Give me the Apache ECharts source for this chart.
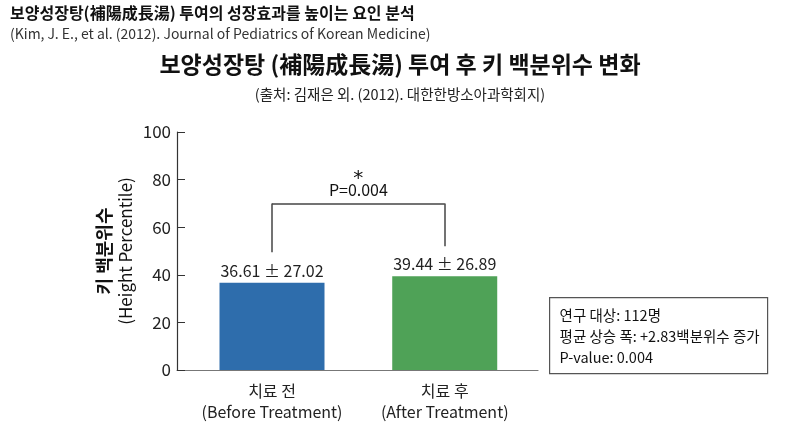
<!DOCTYPE html>
<html>
<head>
<meta charset="utf-8">
<script src="https://cdn.jsdelivr.net/npm/echarts@6/dist/echarts.min.js"></script>
<style>
  html, body { margin: 0; padding: 0; background: #ffffff; }
  #chart { width: 800px; height: 436px; }
</style>
</head>
<body>
<div id="chart"></div>
<script>
var categories = ['치료 전', '치료 후'];
var categoriesEn = ['(Before Treatment)', '(After Treatment)'];
var meanValues = [36.61, 39.44];
var sdValues = [27.02, 26.89];
var barColors = ['#2e6dac', '#4fa257'];
var yTicks = { min: 0, max: 100, interval: 20 };
var bracketBottoms = [49.5, 52.0];
var bracketTop = 70;
var pValueText = 'P=0.004';
var infoLines = ['연구 대상: 112명', '평균 상승 폭: +2.83백분위수 증가', 'P-value: 0.004'];

var FONT = '"Noto Sans CJK KR", "Noto Sans", sans-serif';

var dom = document.getElementById('chart');
var myChart = echarts.init(dom);

var barData = meanValues.map(function (v, i) {
    return {
        value: [i, v],
        itemStyle: { color: barColors[i] }
    };
});

var option = {
    backgroundColor: '#ffffff',
    textStyle: { fontFamily: FONT },
    title: [
        {
            text: '보양성장탕(補陽成長湯) 투여의 성장효과를 높이는 요인 분석',
            left: 10, top: 5, padding: 0,
            textStyle: { fontFamily: FONT, fontSize: 16, fontWeight: 'bold', color: '#111' }
        },
        {
            text: '(Kim, J. E., et al. (2012). Journal of Pediatrics of Korean Medicine)',
            left: 10, top: 27, padding: 0,
            textStyle: { fontFamily: FONT, fontSize: 14, fontWeight: 'normal', color: '#333' }
        },
        {
            text: '보양성장탕 (補陽成長湯) 투여 후 키 백분위수 변화',
            left: 'center', top: 53, padding: 0,
            textStyle: { fontFamily: FONT, fontSize: 23, fontWeight: 'bold', color: '#111' }
        },
        {
            text: '(출처: 김재은 외. (2012). 대한한방소아과학회지)',
            left: 'center', top: 87, padding: 0,
            textStyle: { fontFamily: FONT, fontSize: 14.5, fontWeight: 'normal', color: '#222' }
        }
    ],
    grid: {
        left: 177,
        right: 262,
        top: 132,
        bottom: 66
    },
    xAxis: {
        type: 'value',
        min: -0.55,
        max: 1.54,
        splitLine: { show: false },
        axisLine: { show: true, onZero: false, lineStyle: { color: '#777', width: 1.2 } },
        axisTick: { show: false },
        axisLabel: {
            customValues: [0, 1],
            margin: 10,
            formatter: function (v) {
                var i = Math.round(v);
                return '{a|' + categories[i] + '}\n{b|' + categoriesEn[i] + '}';
            },
            rich: {
                a: { fontFamily: FONT, fontSize: 16, lineHeight: 21, color: '#222' },
                b: { fontFamily: FONT, fontSize: 16, lineHeight: 21, color: '#222' }
            }
        }
    },
    yAxis: {
        type: 'value',
        min: yTicks.min,
        max: yTicks.max,
        interval: yTicks.interval,
        name: '{a|키 백분위수}\n{b|(Height Percentile)}',
        nameLocation: 'middle',
        nameRotate: 90,
        nameGap: 41,
        nameTextStyle: {
            rich: {
                a: { fontFamily: FONT, fontSize: 18, fontWeight: 'bold', lineHeight: 21, color: '#111' },
                b: { fontFamily: FONT, fontSize: 17, lineHeight: 21, color: '#111' }
            }
        },
        splitLine: { show: false },
        axisLine: { show: true, onZero: false, lineStyle: { color: '#333', width: 1.2 } },
        axisTick: { show: true, inside: true, length: 8, lineStyle: { color: '#333' } },
        axisLabel: { fontFamily: FONT, fontSize: 17, color: '#222', margin: 6 }
    },
    series: [
        {
            type: 'bar',
            barWidth: 105,
            data: barData,
            label: {
                show: true,
                position: 'top',
                distance: 4,
                fontFamily: FONT,
                fontSize: 16,
                color: '#222',
                formatter: function (p) {
                    var i = p.dataIndex;
                    return meanValues[i].toFixed(2) + ' ± ' + sdValues[i].toFixed(2);
                }
            },
            markLine: {
                silent: true,
                symbol: 'none',
                animation: false,
                lineStyle: { color: '#444', width: 1.5, type: 'solid' },
                label: { show: false },
                data: [
                    [{ coord: [0, bracketBottoms[0]] }, { coord: [0, bracketTop] }],
                    [
                        {
                            coord: [0, bracketTop],
                            label: {
                                show: true,
                                position: 'middle',
                                distance: 3,
                                formatter: '{s|*}\n{p|' + pValueText + '}',
                                rich: {
                                    s: { fontFamily: '"DejaVu Sans", sans-serif', fontSize: 20, lineHeight: 12, color: '#111', padding: [8, 0, 0, 0] },
                                    p: { fontFamily: FONT, fontSize: 16, lineHeight: 20, color: '#111' }
                                }
                            }
                        },
                        { coord: [1, bracketTop] }
                    ],
                    [{ coord: [1, bracketBottoms[1]] }, { coord: [1, bracketTop] }]
                ]
            }
        }
    ],
    graphic: [
        {
            type: 'group',
            left: 549,
            top: 297,
            children: [
                {
                    type: 'rect',
                    shape: { x: 0, y: 0, width: 218, height: 76 },
                    style: { fill: '#ffffff', stroke: '#555', lineWidth: 1.2 }
                },
                {
                    type: 'text',
                    left: 10,
                    top: 7,
                    style: {
                        text: infoLines.join('\n'),
                        font: '14.5px ' + FONT,
                        lineHeight: 21,
                        fill: '#111'
                    }
                }
            ]
        }
    ]
};

if (option && typeof option === "object") {
    myChart.setOption(option, true);
}
</script>
</body>
</html>
